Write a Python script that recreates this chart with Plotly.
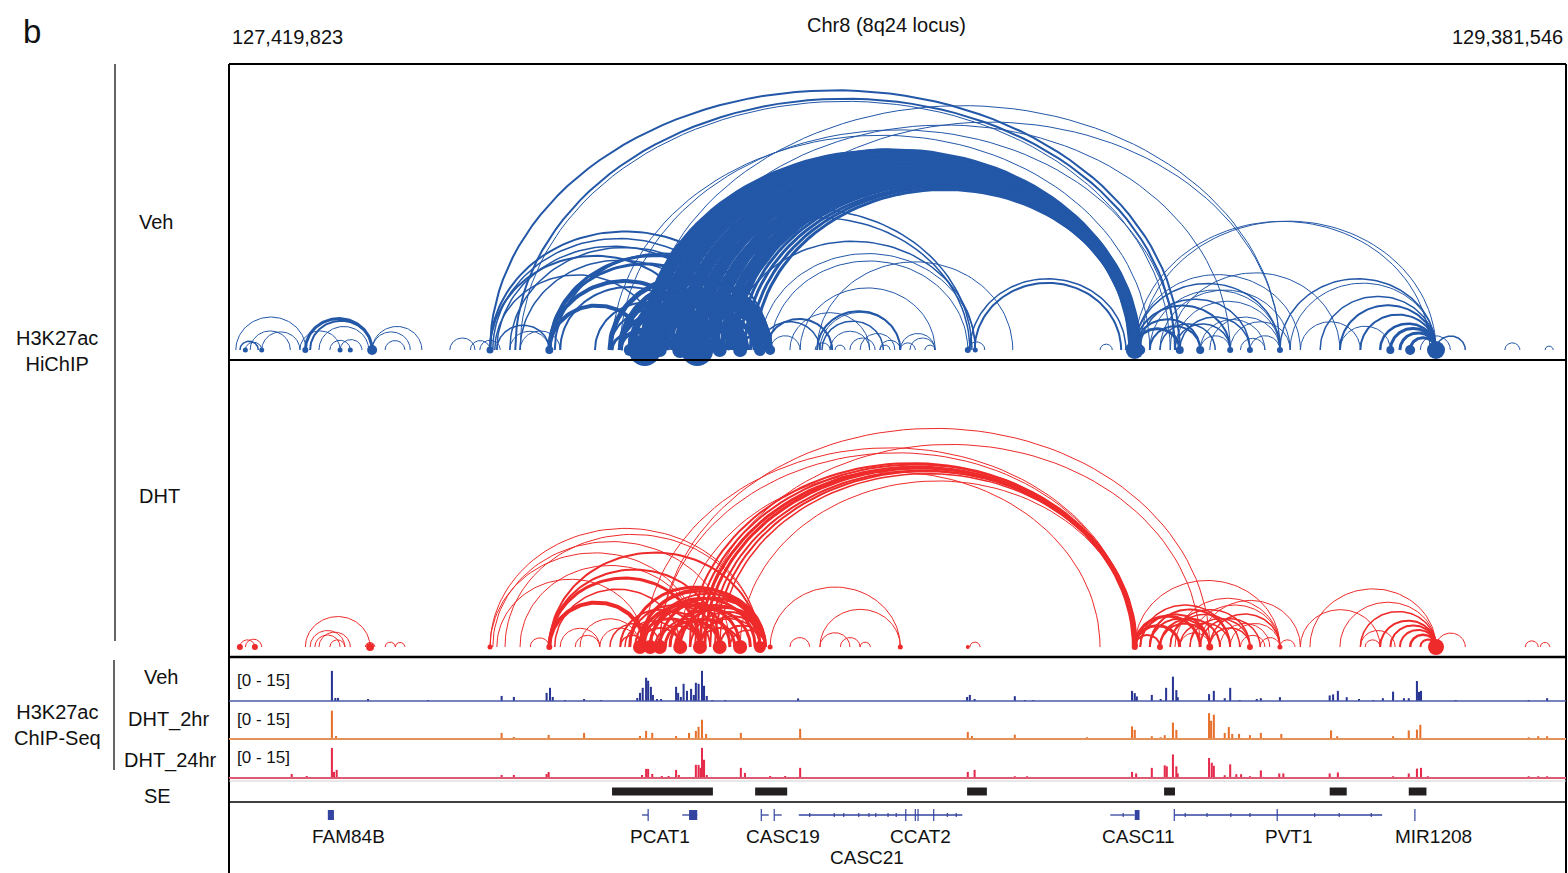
import numpy as np
import plotly.graph_objects as go

# ---------------- data (positions in kb from 127,419,823) ----------------
LOCUS_START = 127419823
LOCUS_END = 129381546
LOCUS_KB = (LOCUS_END - LOCUS_START) / 1000.0
KB_PER_PX = LOCUS_KB / 1337.0

veh_arc_start = [10, 24, 31, 48, 16, 104, 112, 119, 132, 148, 163, 210, 210, 229, 324, 354, 368, 393, 412, 427,
                 383, 420, 427, 383, 387, 393, 412, 427, 383, 390,
                 470, 470, 470, 470, 478, 486, 537, 559,
                 607, 614, 621, 629, 636, 643, 650, 658, 665, 672, 680, 687, 694, 702, 709, 716, 724, 731, 738, 742,
                 750, 757, 765, 772,
                 610, 632, 691, 574, 562,
                 574, 588, 610, 610, 610, 632, 662, 687, 687, 698, 574, 588, 610, 632, 691, 720, 750, 562, 662, 610,
                 559, 574, 588, 603, 610, 625, 640, 655, 574, 588, 603, 618, 640, 662,
                 610, 640, 735, 779, 794, 863, 788, 863, 870, 823, 838, 867, 882, 911, 926, 955, 985, 999,
                 1094, 1087, 1084, 779, 794,
                 1329, 1329, 1329, 1329, 1329, 1337, 1351, 1366, 1381, 1388, 1329, 1337, 1395, 1425, 1439, 1469, 1351, 1366, 1388, 1425, 1484, 1498,
                 1542, 1557, 1601, 1630, 1660, 1689, 1704, 1718, 1733, 1572, 1630, 1771, 1748, 1278, 1315, 1872, 1931,
                 860, 889, 955, 985, 1021]
veh_arc_end = [113, 48, 90, 104, 43, 163, 210, 210, 205, 178, 195, 283, 266, 258, 361, 383, 398, 470, 470, 486,
               1395, 1388, 1381, 779, 757, 735, 750, 720, 691, 632,
               610, 691, 779, 750, 794, 687, 687, 687,
               1325, 1333, 1327, 1331, 1323, 1329, 1335, 1326, 1332, 1328, 1330, 1324, 1334, 1327, 1331, 1329, 1326, 1333, 1328, 1330,
               1329, 1327, 1331, 1329,
               1542, 1469, 1542, 1388, 1351,
               687, 720, 687, 750, 794, 779, 794, 794, 757, 779, 632, 662, 662, 720, 750, 794, 794, 610, 735, 720,
               794, 794, 779, 787, 779, 787, 794, 794, 750, 735, 720, 706, 760, 772,
               1090, 1087, 1095, 1095, 1084, 1150, 885, 985, 960, 940, 1036, 985, 940, 948, 977, 985, 1036, 1036,
               1309, 1316, 1109, 867, 838,
               1542, 1572, 1469, 1425, 1395, 1498, 1542, 1557, 1630, 1542, 1762, 1771, 1498, 1520, 1542, 1557, 1425, 1447, 1469, 1469, 1520, 1542,
               1771, 1771, 1771, 1771, 1771, 1771, 1771, 1771, 1771, 1660, 1704, 1814, 1792, 1296, 1337, 1894, 1943,
               882, 904, 970, 1007, 1036]
veh_arc_weight = [1, 1, 1, 1, 1.5, 1, 3, 2, 1, 1, 1, 1, 1, 1, 1, 1, 1, 1.5, 1, 1,
                  2, 2, 1, 2, 1.5, 1.5, 1.5, 1.5, 2, 1.5,
                  4, 4, 3, 3, 2, 2, 2, 2,
                  5, 5, 5, 5, 5, 5, 5, 5, 5, 5, 5, 5, 5, 5, 5, 5, 5, 5, 5, 5,
                  3, 3, 3, 3,
                  1, 1, 1, 1, 1,
                  4, 4, 5, 4, 4, 4, 4, 4, 4, 4, 4, 4, 4, 4, 3, 3, 3, 3, 3, 4,
                  5, 5, 5, 5, 6, 5, 5, 5, 5, 5, 5, 5, 5, 5,
                  1.5, 1.5, 1.5, 1, 1, 1, 2, 2, 1.5, 1, 1, 1, 1, 1, 1, 1, 1, 1,
                  2, 1.5, 1, 1.5, 1,
                  1.5, 1, 2, 2, 3, 1.5, 1, 1, 1, 1, 1, 1, 1.5, 1, 1, 1, 2, 1.5, 1.5, 1, 1, 1,
                  1.5, 1, 1.5, 2, 2, 2.5, 3, 3, 3, 1, 1, 1.5, 1, 1, 1, 1, 1,
                  1, 1, 1, 1, 1]

veh_anchor_pos = [610, 687, 1329, 1771, 470, 383, 210, 112, 662, 720, 750, 779, 794, 632, 588, 1337, 1395, 1425,
                  1542, 1704, 1733, 24, 48, 163, 178, 1084, 1095, 1469, 1498]
veh_anchor_size = [32, 32, 18, 18, 8, 7, 10, 6, 16, 14, 14, 12, 10, 14, 12, 10, 8, 8,
                   6, 8, 10, 5, 5, 5, 5, 6, 5, 6, 6]

dht_arc_start = [16, 24, 112, 119, 126, 132, 148, 200, 229, 244,
                 383, 383, 387, 393, 405, 427, 470, 470, 470, 470, 478, 486, 508, 515, 442,
                 691, 676, 684, 691, 698, 706, 713, 720, 610, 632, 632, 750, 662,
                 574, 588, 603, 603, 610, 618, 632, 647, 662, 691, 691, 720, 559, 581, 603, 625, 691, 735, 544, 574,
                 588, 603, 618, 632, 647, 662, 603, 618, 640, 655, 677, 596,
                 794, 867, 867, 823, 897, 926, 1087,
                 1329, 1329, 1329, 1337, 1351, 1366, 1381, 1388, 1329, 1410, 1439, 1425, 1439, 1454, 1469, 1484, 1425, 1395,
                 1337, 1351, 1366, 1381, 1395, 1410,
                 1572, 1586, 1630, 1660, 1689, 1704, 1718, 1733, 1748, 1771, 1667, 1513, 1542, 1902, 1924, 1660]
dht_arc_end = [38, 48, 207, 170, 163, 178, 170, 214, 244, 258,
               691, 779, 735, 610, 779, 691, 610, 691, 779, 720, 662, 544, 544, 603, 470,
               1425, 1329, 1331, 1327, 1330, 1328, 1332, 1329, 1329, 1329, 1439, 1329, 1278,
               691, 720, 691, 779, 750, 787, 720, 779, 787, 787, 750, 787, 632, 662, 662, 691, 779, 787, 603, 610,
               779, 787, 772, 787, 765, 787, 735, 750, 720, 742, 787, 706,
               985, 985, 911, 852, 926, 941, 1102,
               1425, 1395, 1366, 1469, 1439, 1439, 1498, 1542, 1542, 1542, 1542, 1513, 1498, 1527, 1542, 1520, 1572, 1439,
               1439, 1469, 1454, 1483, 1469, 1498,
               1689, 1771, 1771, 1771, 1771, 1771, 1771, 1771, 1771, 1814, 1689, 1542, 1564, 1921, 1938, 1711]
dht_arc_weight = [1, 1, 1, 1, 1, 1, 1, 1, 1, 1,
                  1, 1, 1, 1, 1, 1, 4, 3, 2, 2, 1.5, 1, 1, 1, 1,
                  1, 2, 2, 3, 3, 2, 2, 1.5, 1, 1, 1, 1, 1,
                  2, 2, 3, 2, 2, 2, 2, 2, 2, 2, 2, 2, 1.5, 1.5, 2, 2, 1.5, 1.5, 1, 1.5,
                  3, 3, 3, 3, 3, 3, 3, 3, 3, 3, 2, 2,
                  1, 1, 1, 1, 1, 1, 1,
                  3, 3, 2, 1.5, 2, 2, 1.5, 1, 1, 1, 1.5, 1.5, 1.5, 1, 1, 1, 1, 1,
                  2, 2, 2, 1.5, 1.5, 1.5,
                  1, 1, 1, 1.5, 2, 2, 2, 2.5, 2, 1, 1, 1, 1, 1, 1, 1]

dht_anchor_pos = [603, 618, 632, 662, 691, 720, 750, 779, 1771, 207, 383, 470, 1329, 1439, 1366, 1498, 1542,
                  1084, 16, 38, 794, 985]
dht_anchor_size = [14, 14, 14, 14, 14, 14, 14, 12, 16, 8, 5, 6, 6, 7, 6, 6, 5,
                   4, 6, 6, 5, 5]

# H3K27ac ChIP-seq signal (scale 0 - 15)
chip_veh_pos = [151, 156, 160, 204, 292, 400, 418, 466, 471, 475, 493, 521, 546,
                599, 603, 607, 612, 615, 619, 622, 628, 634, 656, 659, 663, 667, 672, 678, 682, 685, 689, 694, 697, 701,
                709, 728, 835, 1083, 1087, 1094,
                1153, 1168, 1180, 1325, 1329, 1332, 1354, 1367, 1375, 1385, 1390, 1392, 1438, 1445, 1461, 1469, 1483,
                1508, 1514, 1542, 1615, 1620, 1627, 1640, 1658, 1679, 1693, 1708, 1724, 1731, 1743, 1746, 1749,
                1800, 1907, 1934]
chip_veh_val = [11.9, 1.2, 1.2, 0.8, 0.4, 2.0, 1.6, 3.2, 5.2, 1.6, 0.4, 0.8, 0.4,
                1.2, 3.2, 5.2, 9.2, 8.0, 5.6, 2.4, 0.8, 0.8, 5.6, 3.2, 1.6, 6.8, 4.0, 4.8, 2.4, 7.2, 6.8, 11.9, 6.0, 2.0,
                0.4, 0.4, 1.0, 1.6, 2.4, 0.8,
                1.9, 0.4, 0.4, 4.0, 3.1, 1.8, 2.4, 0.8, 5.2, 9.6, 4.3, 1.5, 2.7, 4.0, 1.1, 5.2, 0.4,
                0.8, 1.1, 1.5, 2.2, 2.6, 4.0, 1.5, 0.8, 0.4, 1.1, 3.7, 1.1, 1.1, 7.9, 3.6, 4.0,
                0.4, 0.4, 1.1]

chip_2hr_pos = [151, 157, 400, 418, 469, 521, 603, 612, 621, 656, 675, 685, 689, 694, 700,
                751, 838, 1084, 1090,
                1153, 1259, 1307, 1325, 1329, 1354, 1367, 1373, 1385, 1390, 1438, 1441, 1445, 1461, 1467, 1472, 1482,
                1498, 1514, 1544, 1617, 1626, 1708, 1731, 1743, 1748, 1907, 1921, 1934,
                16, 89, 119, 178, 207, 251, 324, 368, 442, 486, 530, 574, 632, 647, 720, 779, 808, 882, 911, 955,
                1014, 1058, 1116, 1190, 1219, 1278, 1380, 1395, 1527, 1556, 1645, 1718, 1762, 1806, 1835, 1894, 1923]
chip_2hr_val = [11.2, 1.2, 2.4, 0.8, 1.6, 2.4, 1.2, 3.2, 2.4, 1.2, 2.4, 3.2, 4.8, 7.6, 2.0,
                2.4, 4.0, 2.8, 1.2,
                1.7, 0.7, 0.4, 5.0, 3.6, 1.1, 0.7, 1.5, 6.5, 3.6, 10.2, 7.2, 9.6, 2.4, 4.7, 2.0, 2.0,
                1.5, 2.4, 2.0, 3.4, 1.1, 1.1, 3.4, 3.7, 5.6, 0.7, 1.1, 1.1,
                0.4, 0.4, 0.4, 0.4, 0.4, 0.4, 0.4, 0.4, 0.4, 0.4, 0.4, 0.4, 0.4, 0.4, 0.4, 0.4, 0.4, 0.4, 0.4, 0.4,
                0.4, 0.4, 0.4, 0.4, 0.4, 0.4, 0.4, 0.4, 0.4, 0.4, 0.4, 0.4, 0.4, 0.4, 0.4, 0.4, 0.4]

chip_24hr_pos = [92, 114, 151, 154, 158, 202, 400, 418, 466, 469, 518,
                 606, 612, 615, 621, 635, 645, 656, 660, 685, 689, 692, 694, 697, 701,
                 751, 757, 794, 816, 838, 1084, 1094,
                 1153, 1171, 1224, 1325, 1331, 1354, 1373, 1376, 1385, 1390, 1392, 1400, 1438, 1442, 1445, 1461, 1469,
                 1478, 1485, 1498, 1514, 1541, 1547, 1615, 1627, 1640, 1708, 1731, 1743, 1749, 1759, 1907, 1921, 1934]
chip_24hr_val = [1.6, 0.8, 11.9, 2.4, 3.2, 0.4, 1.2, 1.2, 1.6, 2.4, 0.4,
                 1.2, 3.6, 3.6, 1.6, 0.8, 0.8, 3.2, 1.2, 5.2, 5.2, 4.0, 11.9, 7.2, 1.2,
                 4.0, 2.0, 0.8, 0.8, 4.0, 2.4, 3.2,
                 0.7, 0.7, 0.4, 2.4, 1.8, 4.0, 5.0, 4.6, 9.3, 4.6, 1.8, 0.4, 7.9, 6.0, 4.8, 1.1, 5.4,
                 1.5, 1.5, 0.7, 3.0, 1.8, 1.8, 1.8, 2.2, 0.4, 0.7, 1.8, 3.7, 4.0, 0.7, 0.7, 0.7, 0.7]

# super-enhancers
se_start = [562, 772, 1083, 1372, 1615, 1731]
se_end = [710, 819, 1112, 1388, 1640, 1757]

# genes
gene_names = ["FAM84B", "PCAT1", "CASC19", "CCAT2", "CASC21", "CASC11", "PVT1", "MIR1208"]
gene_label_pos = [176, 632, 813, 1015, 936, 1335, 1555, 1768]
gene_label_row = [1, 1, 1, 1, 2, 1, 1, 1]
gene_line_start = [606, 665, 781, 800, 836, 1293, 1387]
gene_line_end = [615, 687, 792, 811, 1076, 1329, 1692]
gene_block_start = [145, 675, 1329]
gene_block_end = [154, 687, 1336]
gene_tick_pos = [615, 781, 800, 993, 1007, 1011, 1034, 1387, 1538, 1740]
gene_arrow_pos = [852, 888, 902, 924, 939, 949, 967, 979, 1054, 1067, 1312, 1403, 1435, 1470, 1498, 1593, 1629, 1676]

# ---------------- figure ----------------
W, H = 1568, 873
BLUE_ARC = "#2357a7"
RED_ARC = "#ee2a2a"
C_VEH = "#283592"
C_2HR = "#e6702c"
C_24HR = "#e52a4c"
GENE_BLUE = "#3345a0"


def py(p):
    return 1 - p / H


def px(p):
    return p / W


fig = go.Figure()


def add_arcs(starts, ends, weights, color, yaxis):
    groups = {}
    for s0, e0, w in zip(starts, ends, weights):
        s, e = min(s0, e0), max(s0, e0)
        t = np.linspace(0, np.pi, 70)
        c = (s + e) / 2.0
        r = (e - s) / 2.0
        span_px = (e - s) / KB_PER_PX
        h = 0.48 * span_px * (1 - span_px / 3200.0)
        xs = list(c - r * np.cos(t)) + [None]
        ys = list(h * np.sin(t)) + [None]
        g = groups.setdefault(w, ([], []))
        g[0].extend(xs)
        g[1].extend(ys)
    for w in sorted(groups):
        xs, ys = groups[w]
        fig.add_trace(go.Scatter(x=xs, y=ys, mode="lines", line=dict(color=color, width=w),
                                 xaxis="x", yaxis=yaxis, hoverinfo="skip", showlegend=False))


def add_anchors(pos, size, color, yaxis):
    fig.add_trace(go.Scatter(x=pos, y=[0] * len(pos), mode="markers",
                             marker=dict(color=color, size=size, opacity=1, line=dict(width=0)),
                             opacity=1, cliponaxis=False, xaxis="x", yaxis=yaxis,
                             hoverinfo="skip", showlegend=False))


add_arcs(veh_arc_start, veh_arc_end, veh_arc_weight, BLUE_ARC, "y")
add_anchors(veh_anchor_pos, veh_anchor_size, BLUE_ARC, "y")
add_arcs(dht_arc_start, dht_arc_end, dht_arc_weight, RED_ARC, "y2")
add_anchors(dht_anchor_pos, dht_anchor_size, RED_ARC, "y2")

for pos, val, col, ya in [(chip_veh_pos, chip_veh_val, C_VEH, "y3"),
                          (chip_2hr_pos, chip_2hr_val, C_2HR, "y4"),
                          (chip_24hr_pos, chip_24hr_val, C_24HR, "y5")]:
    fig.add_trace(go.Bar(x=pos, y=val, width=3.0, marker=dict(color=col, line=dict(width=0)),
                         xaxis="x", yaxis=ya, hoverinfo="skip", showlegend=False))

# SE bars
fig.add_trace(go.Bar(x=[e - s for s, e in zip(se_start, se_end)], base=se_start, y=[0.5] * len(se_start),
                     orientation="h", width=0.38, marker=dict(color="#231f20", line=dict(width=0)),
                     xaxis="x", yaxis="y6", hoverinfo="skip", showlegend=False))

# gene models
gx, gy = [], []
for s, e in zip(gene_line_start, gene_line_end):
    gx += [s, e, None]
    gy += [-13, -13, None]
fig.add_trace(go.Scatter(x=gx, y=gy, mode="lines", line=dict(color=GENE_BLUE, width=1.3),
                         xaxis="x", yaxis="y7", hoverinfo="skip", showlegend=False))
tx, ty = [], []
for p in gene_tick_pos:
    tx += [p, p, None]
    ty += [-7, -19, None]
for p in gene_arrow_pos:
    tx += [p, p, None]
    ty += [-11, -15, None]
fig.add_trace(go.Scatter(x=tx, y=ty, mode="lines", line=dict(color=GENE_BLUE, width=1.2),
                         xaxis="x", yaxis="y7", hoverinfo="skip", showlegend=False))
fig.add_trace(go.Bar(x=[e - s for s, e in zip(gene_block_start, gene_block_end)], base=gene_block_start,
                     y=[-13] * len(gene_block_start), orientation="h", width=10,
                     marker=dict(color=GENE_BLUE, line=dict(width=0)),
                     xaxis="x", yaxis="y7", hoverinfo="skip", showlegend=False))
for name, p, row in zip(gene_names, gene_label_pos, gene_label_row):
    fig.add_annotation(x=p, y=-34 if row == 1 else -55, xref="x", yref="y7", text=name, showarrow=False,
                       font=dict(size=19, color="#111"), xanchor="center", yanchor="middle")

# axes
XD = [px(229), px(1566)]
ax = dict(visible=False, showgrid=False, zeroline=False, fixedrange=True)
fig.update_layout(
    width=W, height=H, margin=dict(l=0, r=0, t=0, b=0),
    paper_bgcolor="white", plot_bgcolor="rgba(0,0,0,0)",
    barmode="overlay", showlegend=False,
    font=dict(family="Liberation Sans, Arial, sans-serif", color="#111"),
    xaxis=dict(domain=XD, range=[0, LOCUS_KB], anchor="y", **ax),
    yaxis=dict(domain=[py(360), py(64)], range=[-10, 286], anchor="x", **ax),
    yaxis2=dict(domain=[py(657), py(360)], range=[-10, 287], anchor="x", **ax),
    yaxis3=dict(domain=[py(701), py(663)], range=[0, 15], anchor="x", **ax),
    yaxis4=dict(domain=[py(739), py(701)], range=[0, 15], anchor="x", **ax),
    yaxis5=dict(domain=[py(778), py(740)], range=[0, 15], anchor="x", **ax),
    yaxis6=dict(domain=[py(802), py(781)], range=[0, 1], anchor="x", **ax),
    yaxis7=dict(domain=[0, py(802)], range=[-71, 0], anchor="x", **ax),
)

shapes = []


def pline(x0, y0, x1, y1, color="black", width=1.5):
    shapes.append(dict(type="line", xref="paper", yref="paper", x0=px(x0), y0=py(y0), x1=px(x1), y1=py(y1),
                       line=dict(color=color, width=width)))


pline(229, 64, 1566, 64, width=2)
pline(229, 64, 229, 873, width=2)
pline(1566, 64, 1566, 873, width=2)
pline(229, 360, 1566, 360, width=2)
pline(229, 657, 1566, 657, width=2.5)
pline(229, 781, 1566, 781, color="#d0d0d0", width=1)
pline(229, 802, 1566, 802, width=1.5)
pline(229, 701, 1566, 701, color="#4a5aa8", width=1.5)
pline(229, 739, 1566, 739, color="#e3925a", width=2)
pline(229, 778, 1566, 778, color="#dc5a72", width=2)
pline(115, 64, 115, 641, color="#333", width=1.5)
pline(114, 660, 114, 770, color="#333", width=1.5)
fig.update_layout(shapes=shapes)


def ptext(text, x, y, size=20, xanchor="center"):
    fig.add_annotation(x=px(x), y=py(y), xref="paper", yref="paper", text=text, showarrow=False,
                       font=dict(size=size, color="#111"), xanchor=xanchor, yanchor="middle", align="center")


ptext("b", 32, 32, size=33)
ptext("127,419,823", 230, 37, size=20, xanchor="left")
ptext("129,381,546", 1565, 37, size=20, xanchor="right")
ptext("Chr8 (8q24 locus)", 886, 25, size=20)
ptext("Veh", 156, 222)
ptext("DHT", 159, 496)
ptext("H3K27ac<br>HiChIP", 57, 351)
ptext("Veh", 161, 677)
ptext("DHT_2hr", 168, 719)
ptext("DHT_24hr", 170, 760)
ptext("H3K27ac<br>ChIP-Seq", 57, 725)
ptext("SE", 157, 796)
for yy in [680, 719, 757]:
    ptext("[0 - 15]", 235, yy, size=17, xanchor="left")

fig.write_html("out.html", config={"displayModeBar": False, "staticPlot": True},
               post_script="document.body.style.margin='0px';document.body.style.padding='0px';")
